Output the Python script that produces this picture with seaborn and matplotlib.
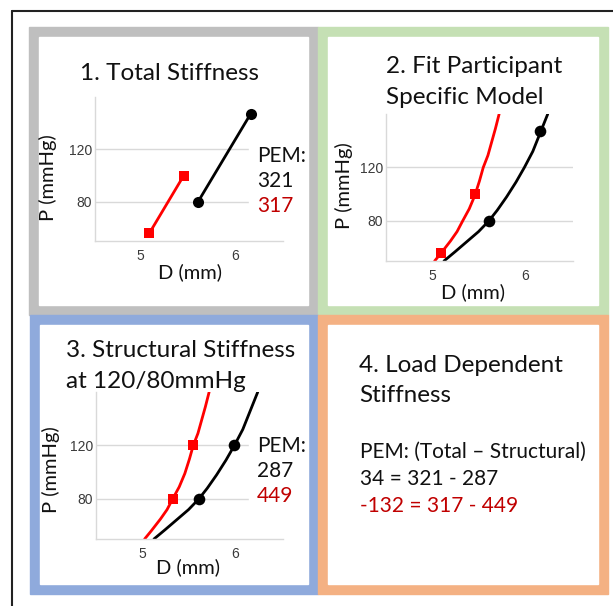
import numpy as np
import pandas as pd
import seaborn as sns
import matplotlib.pyplot as plt
from matplotlib.patches import Rectangle

sns.set_style("white")
plt.rcParams['font.family'] = ['Lato', 'DejaVu Sans']

W, H = 613, 606

# measured points, D (mm) vs P (mmHg)
red_meas_d = [5.10, 5.46]
red_meas_p = [56, 100]
black_meas_d = [5.61, 6.16]
black_meas_p = [80, 147]

red_curve_d = [5.03, 5.10, 5.20, 5.27, 5.33, 5.40, 5.46, 5.51, 5.55, 5.60, 5.64, 5.68, 5.72]
red_curve_p = [50, 56, 65, 72, 80, 89, 99, 110, 120, 129, 139, 149, 160]
black_curve_d = [5.13, 5.25, 5.40, 5.50, 5.61, 5.70, 5.80, 5.90, 5.99, 6.08, 6.16, 6.24]
black_curve_p = [50, 57, 66, 72, 80, 88, 98, 109, 120, 132, 146, 160]

# model evaluated at 120/80 mmHg
red_struct_d = [5.33, 5.55]
black_struct_d = [5.61, 5.99]
struct_p = [80, 120]

pem_total = [321, 317]
pem_struct = [287, 449]

RED = '#ff0000'
TXT_RED = '#c00000'
TXT = '#111111'
GRID = '#d9d9d9'

fig = plt.figure(figsize=(W / 100, H / 100), dpi=100)


def fx(x):
    return x / W


def fy(y):
    return 1 - y / H


def panel(l, t, r, b, color, bw=10):
    fig.patches.append(Rectangle((fx(l), fy(b)), (r - l) / W, (b - t) / H,
                                 transform=fig.transFigure, color=color, zorder=-2))
    fig.patches.append(Rectangle((fx(l + bw), fy(b - bw)), (r - l - 2 * bw) / W, (b - t - 2 * bw) / H,
                                 transform=fig.transFigure, color='white', zorder=-1))


def make_ax(l, t, r, b, xlim, ylab_xy, xlab_xy):
    ax = fig.add_axes([fx(l), fy(b), (r - l) / W, (b - t) / H])
    ax.set_facecolor('none')
    ax.set_xlim(*xlim)
    ax.set_ylim(50, 160)
    ax.set_xticks([5, 6])
    ax.set_yticks([80, 120])
    ax.grid(axis='y', color=GRID, lw=1)
    ax.grid(axis='x', visible=False)
    for s in ['top', 'right']:
        ax.spines[s].set_visible(False)
    for s in ['left', 'bottom']:
        ax.spines[s].set_color(GRID)
        ax.spines[s].set_linewidth(1)
    ax.tick_params(axis='both', length=0, labelsize=10, colors='#3a3a3a')
    ax.tick_params(axis='x', pad=6)
    ax.tick_params(axis='y', pad=2)
    for lab in ax.get_xticklabels() + ax.get_yticklabels():
        lab.set_family(['Liberation Sans'])
    ax.set_xlabel('D (mm)', fontsize=14.5, color=TXT)
    ax.set_ylabel('P (mmHg)', fontsize=14.5, color=TXT)
    # label positions in pixels -> axes coords
    ax.xaxis.set_label_coords((xlab_xy[0] - l) / (r - l), (b - xlab_xy[1]) / (b - t))
    ax.yaxis.set_label_coords((ylab_xy[0] - l) / (r - l), (b - ylab_xy[1]) / (b - t))
    ax.xaxis.label.set_va('center')
    ax.yaxis.label.set_va('center')
    return ax


def pem_block(x, y0, vals, cover):
    fig.patches.append(Rectangle((fx(cover[0]), fy(cover[3])), (cover[2] - cover[0]) / W,
                                 (cover[3] - cover[1]) / H, transform=fig.transFigure,
                                 color='white', zorder=1))
    fig.text(fx(x), fy(y0), 'PEM:', fontsize=15, color=TXT, va='baseline')
    fig.text(fx(x), fy(y0 + 25), str(vals[0]), fontsize=15, color=TXT, va='baseline')
    fig.text(fx(x), fy(y0 + 50), str(vals[1]), fontsize=15, color=TXT_RED, va='baseline')


# outer frame
fig.lines.append(plt.Line2D([fx(12), fx(12)], [fy(606), fy(11)], transform=fig.transFigure,
                            color='#222222', lw=1.5))
fig.lines.append(plt.Line2D([fx(12), fx(613)], [fy(11), fy(11)], transform=fig.transFigure,
                            color='#222222', lw=1.5))

panel(29, 27, 318, 315, '#bfbfbf')
panel(318, 27, 608, 315, '#c5e0b4')
panel(30, 315, 318, 594, '#8faadc')
panel(318, 315, 608, 594, '#f4b183')

# 1. total stiffness
ax1 = make_ax(95, 97, 283, 241, (4.53, 6.5), (48, 178), (190, 272))
sns.lineplot(x=red_meas_d, y=red_meas_p, ax=ax1, color=RED, lw=2, marker='s',
             markersize=7, markeredgewidth=0, sort=False, estimator=None)
sns.lineplot(x=black_meas_d, y=black_meas_p, ax=ax1, color='black', lw=2, marker='o',
             markersize=8, markeredgewidth=0, sort=False, estimator=None)
pem_block(257, 162, pem_total, (249, 140, 300, 215))

# 2. fit participant specific model
ax2 = make_ax(386, 114, 573, 261, (4.51, 6.51), (344, 186), (473, 292))
sns.lineplot(x=red_curve_d, y=red_curve_p, ax=ax2, color=RED, lw=2, sort=False, estimator=None)
sns.lineplot(x=black_curve_d, y=black_curve_p, ax=ax2, color='black', lw=2, sort=False, estimator=None)
sns.scatterplot(x=red_meas_d, y=red_meas_p, ax=ax2, color=RED, marker='s', s=55, linewidth=0, zorder=3)
sns.scatterplot(x=black_meas_d, y=black_meas_p, ax=ax2, color='black', marker='o', s=70, linewidth=0, zorder=3)

# 3. structural stiffness
ax3 = make_ax(96, 392, 283, 539, (4.51, 6.51), (51, 470), (188, 567))
sns.lineplot(x=red_curve_d, y=red_curve_p, ax=ax3, color=RED, lw=2, sort=False, estimator=None)
sns.lineplot(x=black_curve_d, y=black_curve_p, ax=ax3, color='black', lw=2, sort=False, estimator=None)
sns.scatterplot(x=red_struct_d, y=struct_p, ax=ax3, color=RED, marker='s', s=55, linewidth=0, zorder=3)
sns.scatterplot(x=black_struct_d, y=struct_p, ax=ax3, color='black', marker='o', s=70, linewidth=0, zorder=3)
pem_block(257, 452, pem_struct, (249, 430, 300, 508))

# titles
TS = 17.5
fig.text(fx(170), fy(80), '1. Total Stiffness', fontsize=TS, color=TXT, ha='center', va='baseline')
fig.text(fx(386), fy(73), '2. Fit Participant', fontsize=TS, color=TXT, va='baseline')
fig.text(fx(386), fy(104), 'Specific Model', fontsize=TS, color=TXT, va='baseline')
fig.text(fx(66), fy(357), '3. Structural Stiffness', fontsize=TS, color=TXT, va='baseline')
fig.text(fx(66), fy(388), 'at 120/80mmHg', fontsize=TS, color=TXT, va='baseline')
fig.text(fx(359), fy(372), '4. Load Dependent', fontsize=TS, color=TXT, va='baseline')
fig.text(fx(359), fy(402), 'Stiffness', fontsize=TS, color=TXT, va='baseline')

# 4. load dependent = total - structural
diff = [t - s for t, s in zip(pem_total, pem_struct)]
fig.text(fx(360), fy(458), 'PEM: (Total \u2013 Structural)', fontsize=15, color=TXT, va='baseline')
fig.text(fx(360), fy(485), f'{diff[0]} = {pem_total[0]} - {pem_struct[0]}', fontsize=15, color=TXT, va='baseline')
fig.text(fx(360), fy(512), f'{diff[1]} = {pem_total[1]} - {pem_struct[1]}', fontsize=15, color=TXT_RED, va='baseline')

fig.savefig('out.png', dpi=100, facecolor='white')
